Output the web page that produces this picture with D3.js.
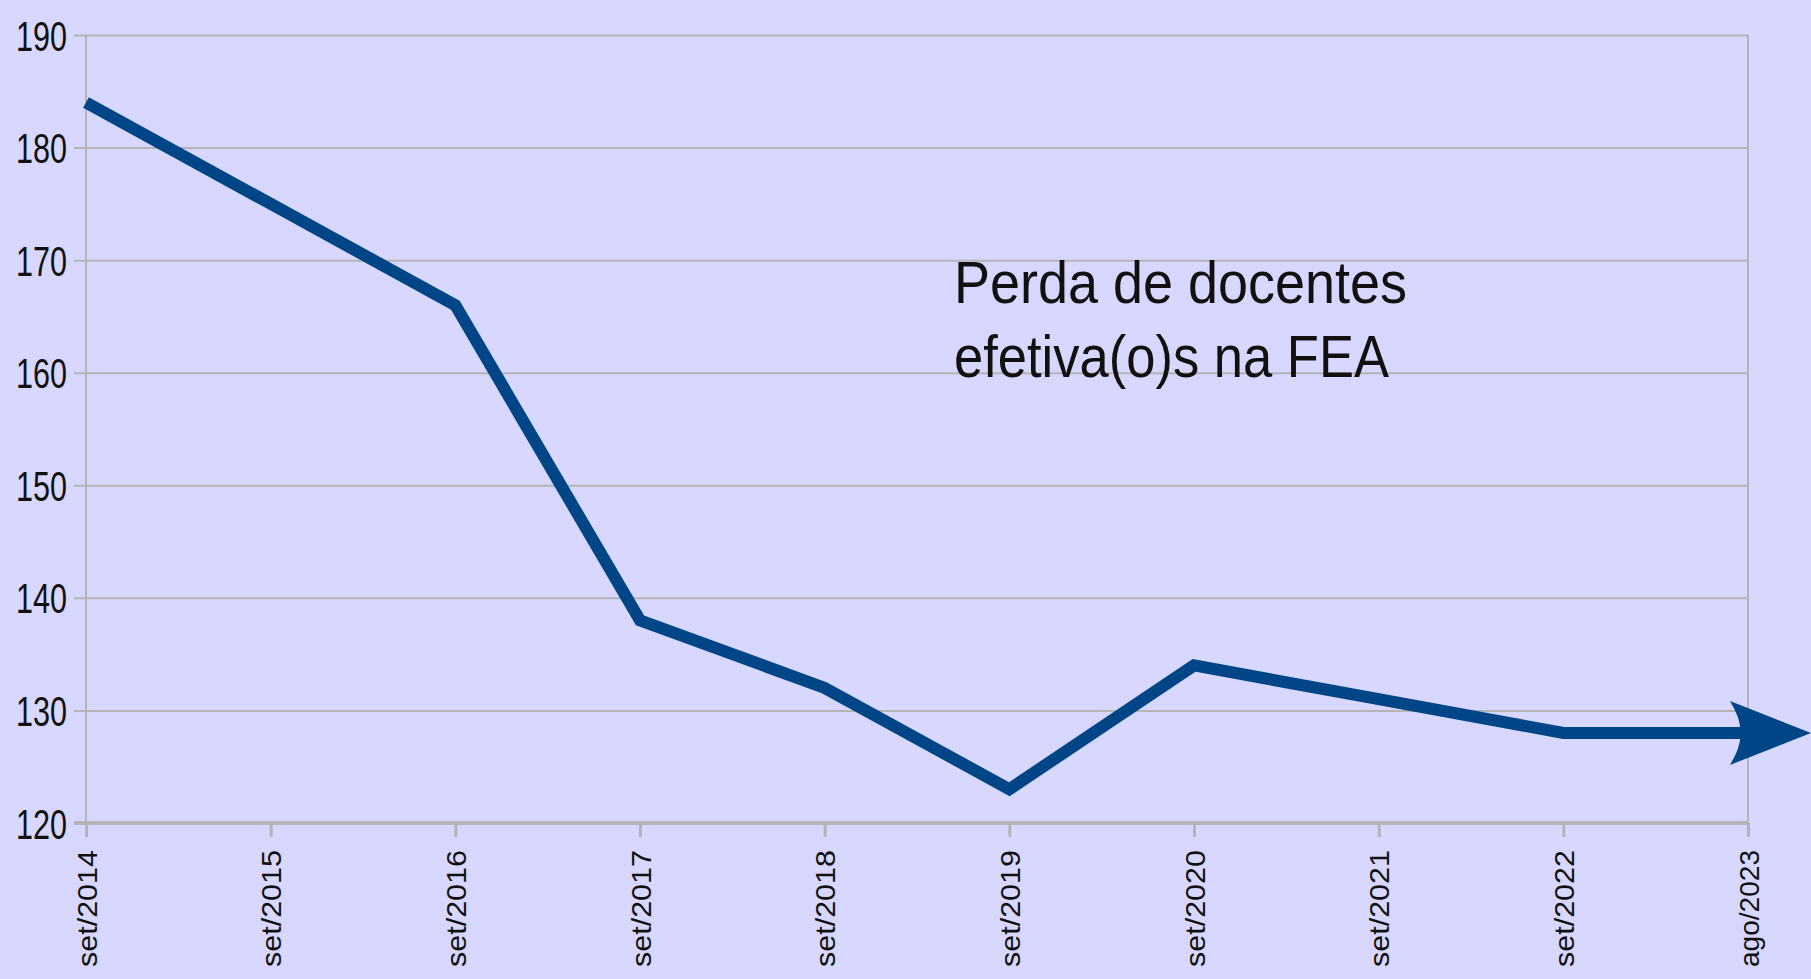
<!DOCTYPE html>
<html>
<head>
<meta charset="utf-8">
<script src="https://cdn.jsdelivr.net/npm/d3@7"></script>
<style>
  html, body { margin: 0; padding: 0; background: #d7d7ff; }
  svg { display: block; }
  text { font-family: "Liberation Sans Narrow", "Liberation Sans", Arial, sans-serif; fill: #111; }
</style>
</head>
<body>
<div id="chart"></div>
<script>
var categories = ["set/2014", "set/2015", "set/2016", "set/2017", "set/2018",
                  "set/2019", "set/2020", "set/2021", "set/2022", "ago/2023"];
var docentes = [184, 175, 166, 138, 132, 123, 134, 131, 128, 128];
var yTicks = [120, 130, 140, 150, 160, 170, 180, 190];
var noteLines = ["Perda de docentes", "efetiva(o)s na FEA"];

var svgWidth = 1811;
var svgHeight = 979;
var margin = { top: 35, right: 63, bottom: 156, left: 86 };
var width = svgWidth - margin.left - margin.right;
var height = svgHeight - margin.top - margin.bottom;

var svg = d3.select("#chart")
    .append("svg")
    .attr("width", svgWidth)
    .attr("height", svgHeight);

svg.append("rect")
    .attr("width", svgWidth)
    .attr("height", svgHeight)
    .attr("fill", "#d7d7ff");

var chart = svg.append("g")
    .attr("transform", "translate(" + margin.left + "," + margin.top + ")");

var xScale = d3.scalePoint().domain(categories).range([0, width]);
var yScale = d3.scaleLinear().domain([120, 190]).range([height, 0]);

// horizontal grid lines + y ticks
var yAxis = d3.axisLeft(yScale)
    .tickValues(yTicks)
    .tickSize(-width - 12)
    .tickSizeOuter(0)
    .tickFormat(d3.format("d"));

var yG = chart.append("g")
    .attr("transform", "translate(" + (-12) + ",0)")
    .call(yAxis);
yG.select(".domain").remove();
yG.selectAll(".tick line")
    .attr("stroke", "#b4b4b4")
    .attr("stroke-width", 2);
yG.selectAll(".tick text")
    .attr("x", -7)
    .attr("dy", "0.36em")
    .style("font-size", "42px")
    .attr("textLength", 51)
    .attr("lengthAdjust", "spacingAndGlyphs");

// vertical frame lines
chart.append("line")
    .attr("x1", 0).attr("x2", 0)
    .attr("y1", 0).attr("y2", height)
    .attr("stroke", "#b4b4b4").attr("stroke-width", 2);
chart.append("line")
    .attr("x1", width).attr("x2", width)
    .attr("y1", 0).attr("y2", height)
    .attr("stroke", "#b4b4b4").attr("stroke-width", 2);

// x axis
var xAxis = d3.axisBottom(xScale).tickSize(14).tickSizeOuter(0);
var xG = chart.append("g")
    .attr("transform", "translate(0," + height + ")")
    .call(xAxis);
xG.select(".domain").remove();
xG.selectAll(".tick line")
    .attr("stroke", "#b4b4b4")
    .attr("stroke-width", 3);
xG.selectAll(".tick text")
    .attr("transform", "rotate(-90)")
    .attr("x", -27)
    .attr("y", 0)
    .attr("dy", "0.36em")
    .style("text-anchor", "end")
    .style("font-size", "28px")
    .attr("textLength", 117)
    .attr("lengthAdjust", "spacingAndGlyphs");

chart.append("line")
    .attr("x1", -12).attr("x2", width)
    .attr("y1", height).attr("y2", height)
    .attr("stroke", "#b4b4b4").attr("stroke-width", 4);

// data line
var line = d3.line()
    .x(function (d, i) { return xScale(categories[i]); })
    .y(function (d) { return yScale(d); });

chart.append("path")
    .datum(docentes)
    .attr("d", line)
    .attr("fill", "none")
    .attr("stroke", "#004586")
    .attr("stroke-width", 12)
    .attr("stroke-linejoin", "miter");

// arrow head on the last point
var lastX = xScale(categories[categories.length - 1]);
var lastY = yScale(docentes[docentes.length - 1]);
chart.append("path")
    .attr("transform", "translate(" + lastX + "," + lastY + ")")
    .attr("d", "M63,0 L-18,-32 Q-6,-12 -8,0 Q-6,12 -18,32 Z")
    .attr("fill", "#004586");

// annotation
var note = chart.append("text")
    .attr("x", 954 - margin.left)
    .attr("y", 303 - margin.top)
    .style("font-size", "60px");
note.selectAll("tspan")
    .data(noteLines)
    .enter()
    .append("tspan")
    .attr("x", 954 - margin.left)
    .attr("dy", function (d, i) { return i === 0 ? 0 : 74; })
    .attr("textLength", function (d, i) { return i === 0 ? 453 : 435; })
    .attr("lengthAdjust", "spacingAndGlyphs")
    .text(function (d) { return d; });
</script>
</body>
</html>
